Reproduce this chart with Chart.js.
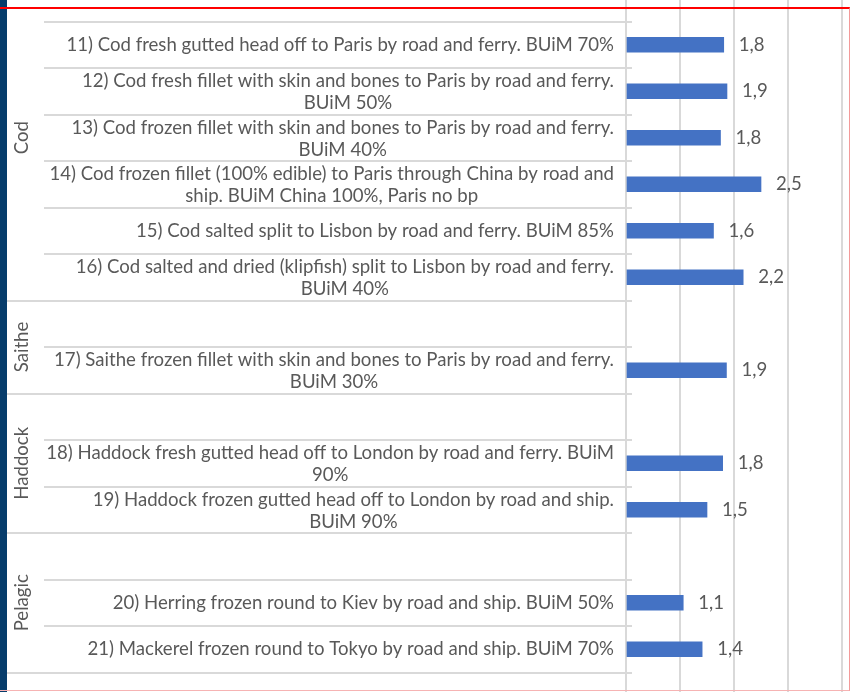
<!DOCTYPE html>
<html>
<head>
<meta charset="utf-8">
<script src="https://cdn.jsdelivr.net/npm/chart.js@4.4.1/dist/chart.umd.min.js"></script>
<style>
  html, body { margin: 0; padding: 0; background: #fff; overflow: hidden; }
  body { width: 851px; height: 692px; position: relative; }
  #wrap { position: absolute; left: 0; top: -25px; width: 851px; height: 744px; }
  #strip { position: absolute; left: 0; top: 0; width: 7px; height: 692px; background: #063c6b; }
  #frame { position: absolute; left: 0; top: 7px; width: 850px; height: 684px;
           border-top: 2px solid #ff0000; border-right: 1px solid #f39a9a; border-bottom: 1px solid #f6b3b3;
           box-sizing: border-box; pointer-events: none; }
</style>
</head>
<body>
<div id="wrap"><canvas id="myChart"></canvas></div>
<div id="strip"></div>
<div id="frame"></div>
<script>
// rows top to bottom, each group starts with an empty row
let categories = [
    [''],
    ['11) Cod fresh gutted head off to Paris by road and ferry. BUiM 70%'],
    ['12) Cod fresh fillet with skin and bones to Paris by road and ferry.', 'BUiM 50%'],
    ['13) Cod frozen fillet with skin and bones to Paris by road and ferry.', 'BUiM 40%'],
    ['14) Cod frozen fillet (100% edible) to Paris through China by road and', 'ship. BUiM China 100%, Paris no bp'],
    ['15) Cod salted split to Lisbon by road and ferry. BUiM 85%'],
    ['16) Cod salted and dried (klipfish) split to Lisbon by road and ferry.', 'BUiM 40%'],
    [''],
    ['17) Saithe frozen fillet with skin and bones to Paris by road and ferry.', 'BUiM 30%'],
    [''],
    ['18) Haddock fresh gutted head off to London by road and ferry. BUiM', '90%'],
    ['19) Haddock frozen gutted head off to London by road and ship.', 'BUiM 90%'],
    [''],
    ['20) Herring frozen round to Kiev by road and ship. BUiM 50%'],
    ['21) Mackerel frozen round to Tokyo by road and ship. BUiM 70%'],
    ['']
];
let values = [null, 1.81, 1.87, 1.75, 2.50, 1.62, 2.17, null, 1.86, null, 1.79, 1.50, null, 1.06, 1.41, null];
let groupNames = ['Cod', 'Saithe', 'Haddock', 'Pelagic'];
let groupRows = [7, 2, 3, 3];
let xTicks = [0, 1, 2, 3, 4];

const textColor = '#595959';
const gridColor = '#d9d9d9';
const font = '18.6px Lato';

// group start rows (plus the row after the last group)
let groupStarts = [];
let acc = 0;
groupRows.forEach(function(n) { groupStarts.push(acc); acc += n; });
groupStarts.push(acc);

const excelLook = {
    id: 'excelLook',
    afterDraw(chart) {
        const ctx = chart.ctx;
        const yScale = chart.scales.y;
        const area = chart.chartArea;
        ctx.save();

        // row separators, long ones between groups
        ctx.strokeStyle = gridColor;
        ctx.lineWidth = 2;
        for (let k = 1; k < categories.length; k++) {
            const y = Math.round(yScale.getPixelForValue(k - 0.5));
            const x0 = groupStarts.includes(k) ? 7 : 44;
            ctx.beginPath();
            ctx.moveTo(x0, y);
            ctx.lineTo(area.left + 6, y);
            ctx.stroke();
        }

        // category labels: block right aligned, lines centred in block
        ctx.font = font;
        ctx.fillStyle = textColor;
        ctx.textAlign = 'center';
        ctx.textBaseline = 'middle';
        const right = area.left - 12;
        categories.forEach(function(lines, i) {
            const yc = yScale.getPixelForValue(i) + (lines.length > 1 ? 1 : 0);
            let maxW = 0;
            lines.forEach(function(t) { maxW = Math.max(maxW, ctx.measureText(t).width); });
            const cx = right - maxW / 2;
            lines.forEach(function(t, j) {
                ctx.fillText(t, cx, yc + (j - (lines.length - 1) / 2) * 22);
            });
        });

        // group labels, rotated
        groupNames.forEach(function(name, g) {
            const y0 = yScale.getPixelForValue(groupStarts[g] - 0.5);
            const y1 = yScale.getPixelForValue(groupStarts[g + 1] - 0.5);
            ctx.save();
            ctx.translate(22, (y0 + y1) / 2);
            ctx.rotate(-Math.PI / 2);
            ctx.fillText(name, 0, 0);
            ctx.restore();
        });

        // value labels
        ctx.textAlign = 'left';
        chart.getDatasetMeta(0).data.forEach(function(bar, i) {
            if (values[i] === null) return;
            ctx.fillText(values[i].toFixed(1).replace('.', ','), bar.x + 15, bar.y);
        });

        ctx.restore();
    }
};

new Chart(document.getElementById('myChart'), {
    type: 'bar',
    data: {
        labels: categories,
        datasets: [{
            data: values,
            backgroundColor: '#4472c4',
            borderWidth: 0,
            barThickness: 15
        }]
    },
    options: {
        indexAxis: 'y',
        responsive: true,
        maintainAspectRatio: false,
        animation: false,
        layout: { padding: { left: 0, right: 9, top: 0, bottom: 0 } },
        plugins: {
            legend: { display: false },
            tooltip: { enabled: false }
        },
        scales: {
            x: {
                type: 'linear',
                min: xTicks[0],
                max: xTicks[xTicks.length - 1],
                afterBuildTicks: function(scale) { scale.ticks = xTicks.map(function(v) { return { value: v }; }); },
                ticks: { display: false },
                grid: { color: gridColor, lineWidth: 2, drawTicks: false },
                border: { display: false },
                afterFit: function(scale) { scale.height = 0; }
            },
            y: {
                ticks: { display: false },
                grid: { display: false },
                border: { color: gridColor, width: 2 },
                afterFit: function(scale) { scale.width = 626; }
            }
        }
    },
    plugins: [excelLook]
});
</script>
</body>
</html>
